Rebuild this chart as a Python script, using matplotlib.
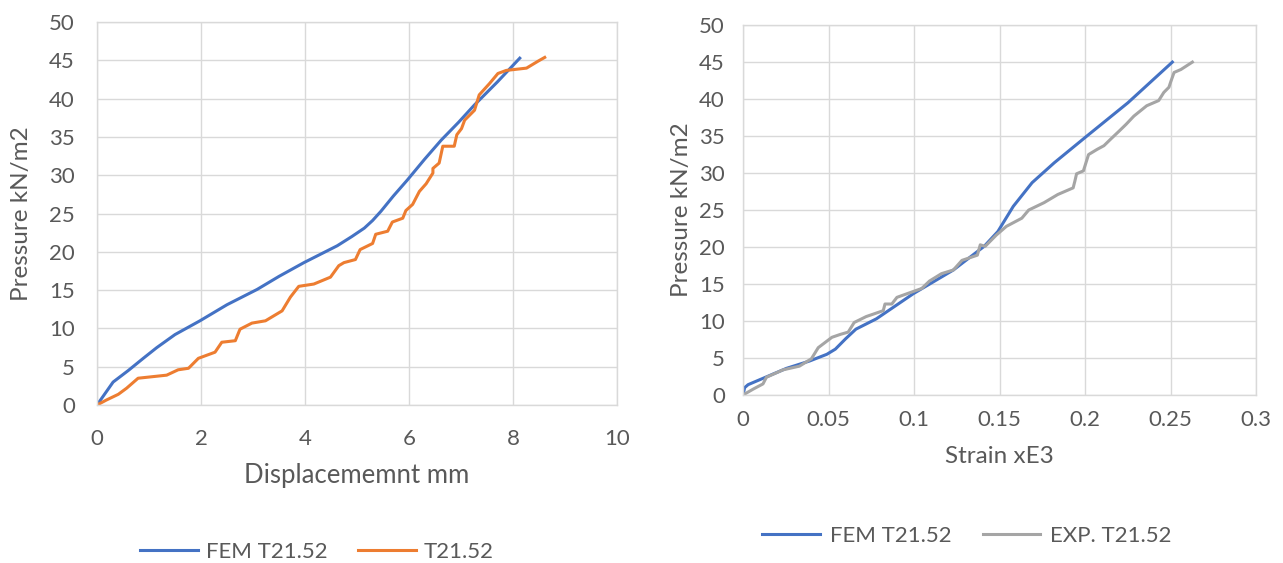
import matplotlib.pyplot as plt

# Excel-style look, Lato in place of Calibri
plt.rcParams['font.family'] = ['Lato', 'DejaVu Sans']

# ---- left chart: pressure vs displacement ----
fem_disp = [0, 0.31, 0.6, 0.89, 1.15, 1.5, 1.98, 2.5, 3.08, 3.5, 3.98, 4.3, 4.62, 4.9,
            5.14, 5.3, 5.46, 5.7, 5.97, 6.3, 6.62, 6.95, 7.26, 7.7, 8.13]
fem_disp_p = [0, 3.0, 4.5, 6.1, 7.5, 9.2, 11.0, 13.1, 15.1, 16.8, 18.6, 19.7, 20.8, 22.0,
              23.1, 24.1, 25.3, 27.3, 29.4, 32.1, 34.6, 36.9, 39.2, 42.2, 45.3]

exp_disp = [0, 0.18, 0.41, 0.57, 0.79, 1.34, 1.56, 1.76, 1.95, 2.27, 2.40, 2.66, 2.75,
            2.98, 3.24, 3.56, 3.72, 3.88, 4.17, 4.49, 4.65, 4.75, 4.97, 5.06, 5.30,
            5.36, 5.59, 5.68, 5.88, 5.94, 6.07, 6.20, 6.33, 6.46, 6.46, 6.58, 6.65,
            6.87, 6.92, 7.01, 7.07, 7.26, 7.35, 7.55, 7.71, 7.87, 8.26, 8.48, 8.61]
exp_disp_p = [0, 0.65, 1.4, 2.2, 3.5, 3.9, 4.6, 4.8, 6.1, 6.9, 8.2, 8.4, 9.9,
              10.7, 11.0, 12.3, 14.1, 15.5, 15.8, 16.7, 18.2, 18.6, 19.0, 20.3, 21.1,
              22.3, 22.7, 23.9, 24.4, 25.4, 26.2, 27.9, 28.9, 30.3, 30.9, 31.6, 33.8,
              33.8, 35.3, 36.1, 37.2, 38.5, 40.5, 42.0, 43.3, 43.7, 44.0, 44.9, 45.4]

# ---- right chart: pressure vs strain ----
fem_strain = [0, 0.001, 0.003, 0.0137, 0.0254, 0.039, 0.049, 0.054, 0.060, 0.066, 0.078,
              0.0996, 0.123, 0.141, 0.149, 0.158, 0.169, 0.182, 0.201, 0.225, 0.251]
fem_strain_p = [0, 1.0, 1.4, 2.45, 3.6, 4.6, 5.5, 6.2, 7.6, 8.9, 10.3,
                13.7, 16.9, 20.1, 22.1, 25.5, 28.7, 31.4, 35.0, 39.5, 45.0]

exp_strain = [0, 0.006, 0.0117, 0.0137, 0.0234, 0.033, 0.040, 0.044, 0.048, 0.052, 0.057,
              0.0615, 0.065, 0.072, 0.082, 0.083, 0.087, 0.090, 0.096, 0.1045, 0.109,
              0.116, 0.123, 0.128, 0.137, 0.1387, 0.1416, 0.148, 0.154, 0.163, 0.167,
              0.176, 0.184, 0.193, 0.194, 0.195, 0.199, 0.202, 0.207, 0.211, 0.215,
              0.220, 0.224, 0.2285, 0.236, 0.243, 0.246, 0.249, 0.250, 0.252, 0.256, 0.2627]
exp_strain_p = [0, 0.8, 1.5, 2.4, 3.4, 3.9, 4.9, 6.4, 7.1, 7.8, 8.2,
                8.5, 9.8, 10.6, 11.4, 12.3, 12.3, 13.2, 13.7, 14.4, 15.4,
                16.4, 16.9, 18.2, 18.9, 20.3, 20.1, 21.6, 22.8, 23.9, 25.0,
                26.0, 27.1, 28.0, 28.9, 29.9, 30.3, 32.5, 33.2, 33.7, 34.6,
                35.7, 36.6, 37.7, 39.1, 39.8, 40.9, 41.6, 42.3, 43.6, 44.0, 45.0]

blue = '#4472C4'
orange = '#ED7D31'
gray = '#A5A5A5'
txt = '#595959'
grid = '#D9D9D9'

fig = plt.figure(figsize=(12.83, 5.63), dpi=100)
ax1 = fig.add_axes([0.0756, 0.2806, 0.4053, 0.680])
ax2 = fig.add_axes([0.5791, 0.2984, 0.400, 0.657])


def excel_style(ax, xpad, ypad):
    ax.grid(True, color=grid, linewidth=1)
    ax.set_axisbelow(True)
    for s in ax.spines.values():
        s.set_color(grid)
        s.set_linewidth(1)
    ax.tick_params(length=0, labelsize=16, labelcolor=txt)
    ax.tick_params(axis='x', pad=xpad)
    ax.tick_params(axis='y', pad=ypad)
    ax.set_ylim(0, 50)
    ax.set_yticks(range(0, 51, 5))


ax1.plot(fem_disp, fem_disp_p, color=blue, lw=2.2, label='FEM T21.52')
ax1.plot(exp_disp, exp_disp_p, color=orange, lw=2.2, label='T21.52')
excel_style(ax1, 17, 16)
ax1.set_xlim(0, 10)
ax1.set_xticks(range(0, 11, 2))
ax1.set_xlabel('Displacememnt mm', fontsize=18.5, color=txt, labelpad=10)
ax1.set_ylabel('Pressure kN/m2', fontsize=17.5, color=txt, labelpad=12)
ax1.legend(loc='center', bbox_to_anchor=(0.247, 0.0195), bbox_transform=fig.transFigure,
           ncol=2, frameon=False, fontsize=16, labelcolor=txt, handlelength=2.6,
           handletextpad=0.35, columnspacing=1.4)

ax2.plot(fem_strain, fem_strain_p, color=blue, lw=2.2, label='FEM T21.52')
ax2.plot(exp_strain, exp_strain_p, color=gray, lw=2.2, label='EXP. T21.52')
excel_style(ax2, 11, 13)
ax2.set_xlim(0, 0.3)
ax2.set_xticks([0, 0.05, 0.1, 0.15, 0.2, 0.25, 0.3])
ax2.set_xticklabels(['0', '0.05', '0.1', '0.15', '0.2', '0.25', '0.3'])
ax2.set_xlabel('Strain xE3', fontsize=17.5, color=txt, labelpad=11)
ax2.set_ylabel('Pressure kN/m2', fontsize=17.5, color=txt, labelpad=5)
ax2.legend(loc='center', bbox_to_anchor=(0.7537, 0.048), bbox_transform=fig.transFigure,
           ncol=2, frameon=False, fontsize=16, labelcolor=txt, handlelength=2.6,
           handletextpad=0.45, columnspacing=1.4)

fig.savefig('out.png', dpi=100)
